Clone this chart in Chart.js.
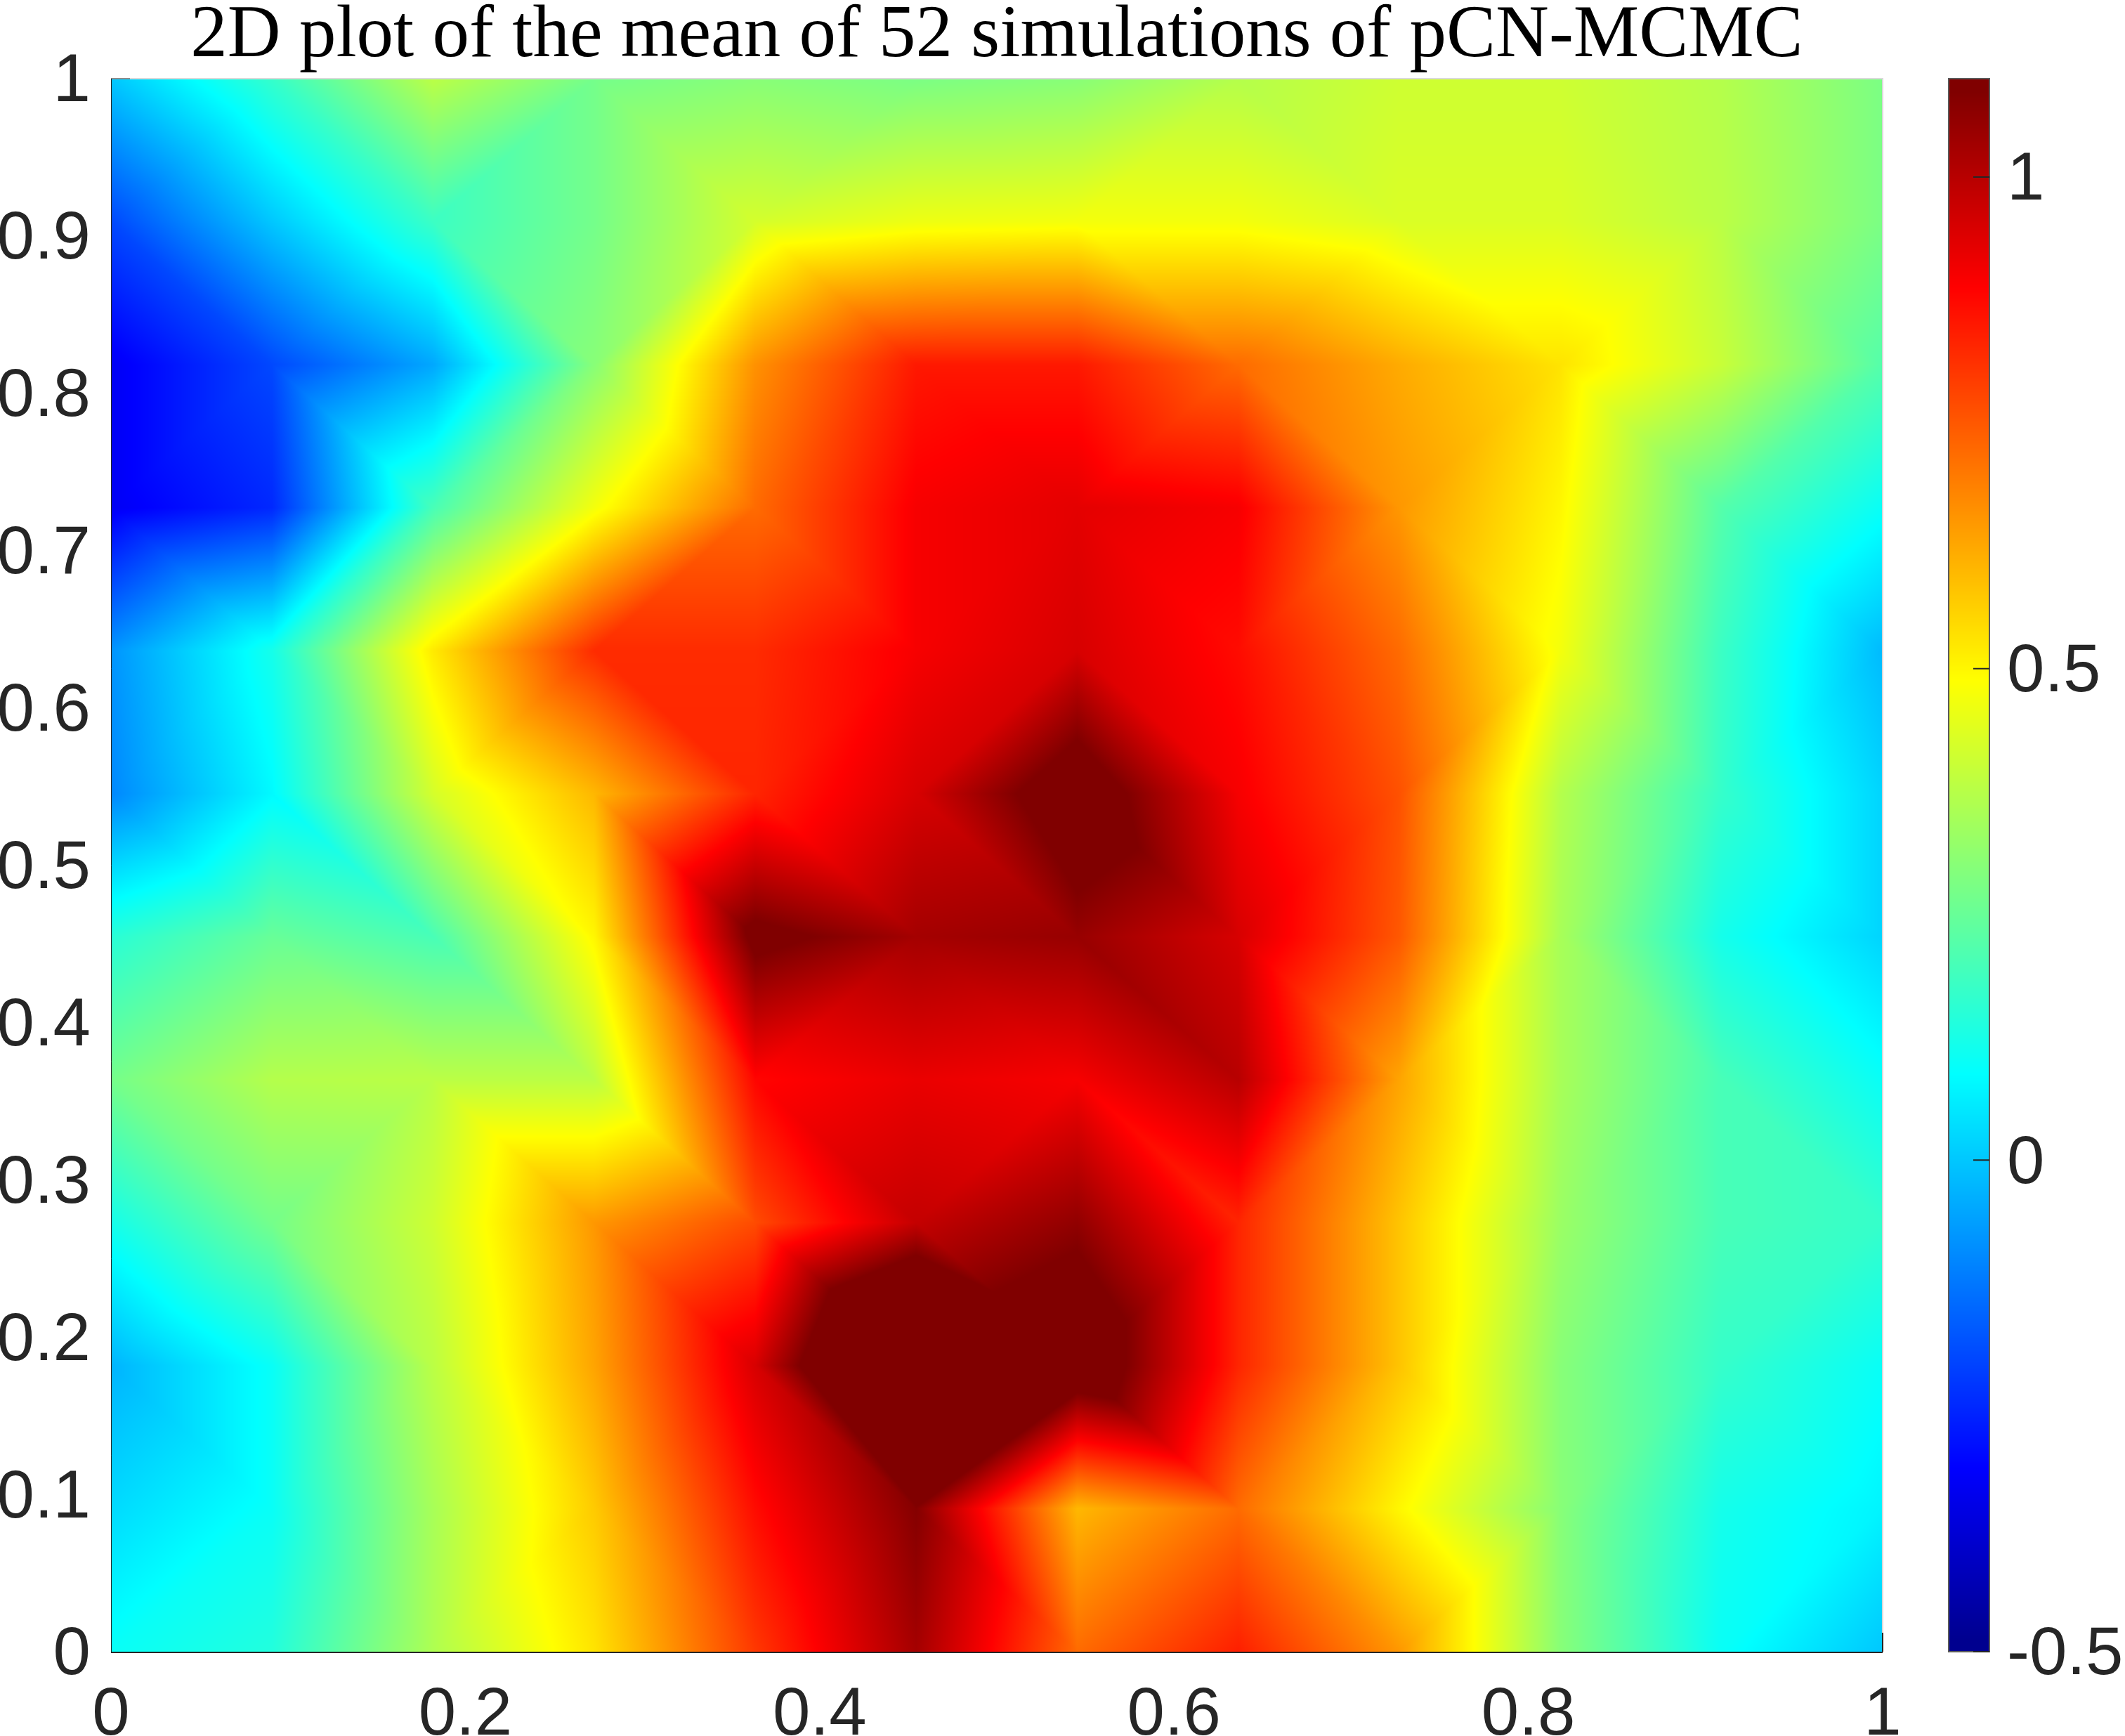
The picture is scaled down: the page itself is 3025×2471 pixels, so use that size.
<!DOCTYPE html>
<html>
<head>
<meta charset="utf-8">
<script src="https://cdn.jsdelivr.net/npm/chart.js@4/dist/chart.umd.js"></script>
<style>
  html, body { margin: 0; padding: 0; background: #fff; overflow: hidden; }
  #wrap { position: relative; width: 3025px; height: 2471px; }
  canvas { position: absolute; top: 0; }
  #heat { left: 0; }
  #bar { left: 2680px; }
</style>
</head>
<body>
<div id="wrap">
  <canvas id="heat" width="2838" height="2471"></canvas>
  <canvas id="bar" width="345" height="2471"></canvas>
</div>
<script>
const titleText = '2D plot of the mean of 52 simulations of pCN-MCMC';
const xTicks = [0, 0.2, 0.4, 0.6, 0.8, 1];
const yTicks = [0, 0.1, 0.2, 0.3, 0.4, 0.5, 0.6, 0.7, 0.8, 0.9, 1];
const barTicks = [-0.5, 0, 0.5, 1];
const colorMin = -0.5;
const colorMax = 1.1;

// mesh nodes are k/11 on both axes
const nodeCount = 12;

// node values by row, bottom row (y=0) first
const row00 = [0.10, 0.14, 0.36, 0.53, 0.80, 1.03, 0.72, 0.84, 0.65, 0.30, 0.10, 0.00];
const row01 = [0.03, 0.10, 0.35, 0.57, 0.87, 1.08, 0.60, 0.72, 0.50, 0.30, 0.12, 0.07];
const row02 = [-0.03, 0.10, 0.38, 0.63, 0.95, 1.45, 1.20, 0.83, 0.58, 0.30, 0.17, 0.10];
const row03 = [0.12, 0.27, 0.41, 0.65, 0.77, 0.98, 1.06, 0.83, 0.58, 0.33, 0.20, 0.17];
const row04 = [0.27, 0.37, 0.38, 0.38, 0.88, 0.92, 0.90, 1.00, 0.63, 0.35, 0.20, 0.10];
const row05 = [0.15, 0.25, 0.20, 0.50, 1.12, 1.03, 1.05, 0.95, 0.75, 0.35, 0.12, 0.02];
const row06 = [-0.10, 0.08, 0.42, 0.60, 0.83, 0.95, 1.17, 0.90, 0.76, 0.37, 0.17, 0.02];
const row07 = [-0.08, 0.12, 0.52, 0.82, 0.82, 0.90, 0.95, 0.87, 0.72, 0.47, 0.18, -0.02];
const row08 = [-0.33, -0.25, 0.20, 0.47, 0.72, 0.90, 0.93, 0.90, 0.65, 0.50, 0.22, 0.10];
const row09 = [-0.33, -0.20, -0.05, 0.30, 0.66, 0.85, 0.85, 0.72, 0.62, 0.53, 0.40, 0.22];
const row10 = [-0.20, 0.00, 0.18, 0.27, 0.42, 0.46, 0.47, 0.47, 0.43, 0.43, 0.38, 0.28];
const row11 = [0.00, 0.17, 0.38, 0.27, 0.30, 0.28, 0.30, 0.37, 0.41, 0.41, 0.37, 0.28];
const rows = [row00, row01, row02, row03, row04, row05, row06, row07, row08, row09, row10, row11];

// cells [i, j] whose diagonal runs the other way than the even/odd rule
const flippedCells = [[1, 5], [2, 4], [2, 7], [3, 5], [3, 3], [4, 2], [5, 5], [5, 6], [6, 4], [6, 6]];

const tickColor = '#262626';
const tickFont = { family: '"Liberation Sans", Helvetica, Arial, sans-serif', size: 96 };

// matlab jet, continuous
function jet(v) {
  const t = (v - colorMin) / (colorMax - colorMin);
  const k = Math.max(1, Math.min(64, t * 64 + 0.5));
  const clamp = (a) => Math.max(0, Math.min(1, a));
  return [
    Math.round(255 * clamp(Math.min((k - 24) / 16, (72 - k) / 16))),
    Math.round(255 * clamp(Math.min((k - 8) / 16, (56 - k) / 16))),
    Math.round(255 * clamp(Math.min((k + 8) / 16, (40 - k) / 16))),
  ];
}

const flipped = new Set(flippedCells.map(([i, j]) => i + ',' + j));

// linear interpolation on the triangle mesh
function meshValue(x, y) {
  const u = Math.min(x * (nodeCount - 1), nodeCount - 1.000001);
  const w = Math.min(y * (nodeCount - 1), nodeCount - 1.000001);
  const i = Math.floor(u);
  const j = Math.floor(w);
  const a = u - i;
  const b = w - j;
  const v00 = rows[j][i], v10 = rows[j][i + 1], v01 = rows[j + 1][i], v11 = rows[j + 1][i + 1];
  const rising = ((i + j) % 2 === 0) !== flipped.has(i + ',' + j);
  if (rising) {
    if (a >= b) return v00 + a * (v10 - v00) + b * (v11 - v10);
    return v00 + b * (v01 - v00) + a * (v11 - v01);
  }
  if (a + b <= 1) return v00 + a * (v10 - v00) + b * (v01 - v00);
  return v11 + (1 - a) * (v01 - v11) + (1 - b) * (v10 - v11);
}

const surfacePlugin = {
  id: 'surface',
  beforeDatasetsDraw(chart) {
    const { ctx, chartArea, scales } = chart;
    const w = Math.round(chartArea.right - chartArea.left);
    const h = Math.round(chartArea.bottom - chartArea.top);
    const img = ctx.createImageData(w, h);
    for (let py = 0; py < h; py++) {
      const y = scales.y.getValueForPixel(chartArea.top + py + 0.5);
      for (let px = 0; px < w; px++) {
        const x = scales.x.getValueForPixel(chartArea.left + px + 0.5);
        const c = jet(meshValue(Math.max(0, Math.min(1, x)), Math.max(0, Math.min(1, y))));
        const o = (py * w + px) * 4;
        img.data[o] = c[0];
        img.data[o + 1] = c[1];
        img.data[o + 2] = c[2];
        img.data[o + 3] = 255;
      }
    }
    ctx.putImageData(img, Math.round(chartArea.left), Math.round(chartArea.top));
  },
  afterDatasetsDraw(chart) {
    const { ctx, chartArea: a } = chart;
    ctx.save();
    ctx.strokeStyle = '#d9d9d9';
    ctx.lineWidth = 2;
    ctx.beginPath();
    ctx.moveTo(a.left, a.top);
    ctx.lineTo(a.right, a.top);
    ctx.lineTo(a.right, a.bottom);
    ctx.stroke();
    // the two ticks that stay visible over the surface
    ctx.strokeStyle = '#8c8c8c';
    ctx.beginPath();
    ctx.moveTo(a.left, a.top);
    ctx.lineTo(a.left + 27, a.top);
    ctx.stroke();
    ctx.strokeStyle = tickColor;
    ctx.beginPath();
    ctx.moveTo(a.left, a.bottom + 1);
    ctx.lineTo(a.right, a.bottom + 1);
    ctx.moveTo(a.right, a.bottom);
    ctx.lineTo(a.right, a.bottom - 27);
    ctx.stroke();
    ctx.lineWidth = 1;
    ctx.beginPath();
    ctx.moveTo(a.left + 0.5, a.top);
    ctx.lineTo(a.left + 0.5, a.bottom);
    ctx.stroke();
    ctx.restore();
  },
};

const nodes = [];
rows.forEach((row, j) => row.forEach((v, i) => nodes.push({ x: i / (nodeCount - 1), y: j / (nodeCount - 1), v })));

new Chart(document.getElementById('heat'), {
  type: 'scatter',
  data: { datasets: [{ data: nodes, pointRadius: 0, pointHoverRadius: 0 }] },
  plugins: [surfacePlugin],
  options: {
    responsive: false,
    animation: false,
    layout: { padding: { right: 158 } },
    plugins: {
      legend: { display: false },
      tooltip: { enabled: false },
      title: {
        display: true,
        // not fullSize, so it centres over the plot and not over the canvas
        fullSize: false,
        text: titleText,
        color: '#000',
        font: { family: '"Liberation Serif", "Times New Roman", serif', size: 105, weight: 'normal', lineHeight: 1 },
        padding: { top: 0, bottom: 7 },
      },
    },
    scales: {
      x: {
        type: 'linear',
        min: 0,
        max: 1,
        afterFit: (s) => { s.height = 120; s.paddingLeft = 0; s.paddingRight = 0; },
        afterBuildTicks: (s) => { s.ticks = xTicks.map((value) => ({ value })); },
        grid: { display: false, drawTicks: false },
        border: { display: false },
        ticks: { color: tickColor, font: tickFont, padding: 34, maxRotation: 0, autoSkip: false, callback: (v) => String(v) },
      },
      y: {
        type: 'linear',
        min: 0,
        max: 1,
        afterFit: (s) => { s.width = 158; s.paddingTop = 0; s.paddingBottom = 0; },
        afterBuildTicks: (s) => { s.ticks = yTicks.map((value) => ({ value })); },
        grid: { display: false, drawTicks: false },
        border: { display: false },
        ticks: { color: tickColor, font: tickFont, padding: 29, labelOffset: 6, autoSkip: false, callback: (v) => String(v) },
      },
    },
  },
});

const colorbarPlugin = {
  id: 'colorbar',
  beforeDatasetsDraw(chart) {
    const { ctx, chartArea: a, scales } = chart;
    const w = a.right - a.left;
    for (let py = Math.floor(a.top); py < a.bottom; py++) {
      const c = jet(scales.y.getValueForPixel(py + 0.5));
      ctx.fillStyle = `rgb(${c[0]},${c[1]},${c[2]})`;
      ctx.fillRect(a.left, py, w, 1);
    }
  },
  afterDatasetsDraw(chart) {
    const { ctx, chartArea: a, scales } = chart;
    ctx.save();
    ctx.strokeStyle = '#5a5a5a';
    ctx.lineWidth = 2;
    ctx.strokeRect(a.left, a.top, a.right - a.left, a.bottom - a.top);
    ctx.strokeStyle = tickColor;
    ctx.beginPath();
    barTicks.forEach((value) => {
      const p = scales.y.getPixelForValue(value);
      ctx.moveTo(a.right - 23, p);
      ctx.lineTo(a.right, p);
    });
    ctx.stroke();
    ctx.restore();
  },
};

new Chart(document.getElementById('bar'), {
  type: 'scatter',
  data: { datasets: [{ data: [{ x: 0, y: colorMin }, { x: 0, y: colorMax }], pointRadius: 0, pointHoverRadius: 0 }] },
  plugins: [colorbarPlugin],
  options: {
    responsive: false,
    animation: false,
    layout: { padding: { left: 94, top: 112, bottom: 120 } },
    plugins: { legend: { display: false }, tooltip: { enabled: false }, title: { display: false } },
    scales: {
      x: { type: 'linear', display: false, min: 0, max: 1 },
      y: {
        type: 'linear',
        position: 'right',
        min: colorMin,
        max: colorMax,
        afterFit: (s) => { s.width = 193; s.paddingTop = 0; s.paddingBottom = 0; },
        afterBuildTicks: (s) => { s.ticks = barTicks.map((value) => ({ value })); },
        grid: { display: false, drawTicks: false },
        border: { display: false },
        ticks: { color: tickColor, font: tickFont, padding: 25, labelOffset: 6, autoSkip: false, callback: (v) => String(v) },
      },
    },
  },
});
</script>
</body>
</html>
